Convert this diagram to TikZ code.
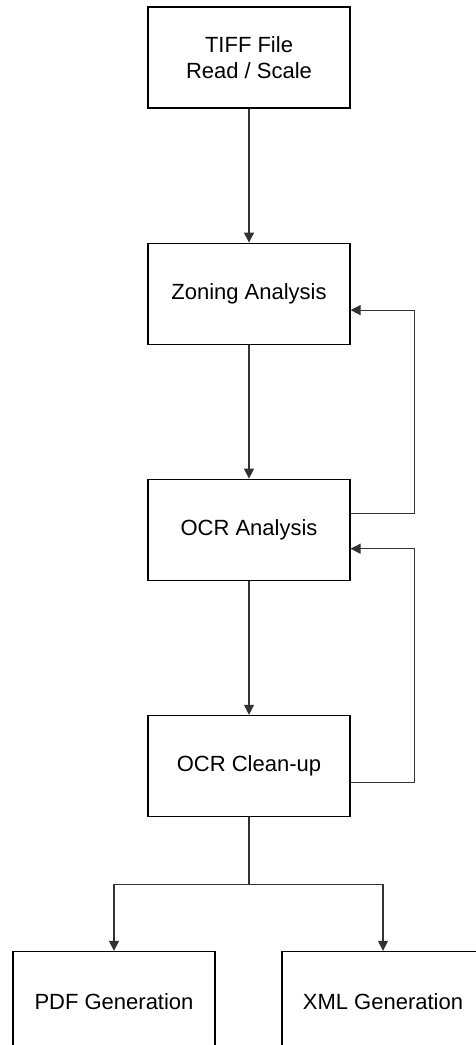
\documentclass[tikz,border=0pt]{standalone}
\usepackage{fontspec}
\setmainfont{Liberation Sans}
\usetikzlibrary{positioning, arrows.meta, calc}
\definecolor{lineg}{RGB}{50, 50, 50}

\begin{document}
\begin{tikzpicture}[
    x=1pt, y=-1pt,
    stage/.style={rectangle, draw=black, line width=1.1pt, minimum width=202pt,
                  minimum height=101pt, align=center, inner sep=0pt,
                  font=\fontsize{22}{26}\selectfont},
    arr/.style={-{Triangle[length=10pt, width=10pt]}, line width=1.1pt, color=lineg},
    link/.style={line width=1.1pt, color=lineg}
  ]
  \useasboundingbox (0,0) rectangle (475,1045);

  % Main chain
  \node[stage] (tiff) at (249,57.5) {TIFF File\\Read / Scale};
  \node[stage, below=134pt of tiff] (zone) {Zoning Analysis};
  \node[stage, below=134pt of zone] (ocr) {OCR Analysis};
  \node[stage, below=134pt of ocr] (clean) {OCR Clean-up};

  % Outputs
  \node[stage, below=134pt of clean, xshift=-135pt] (pdf) {PDF Generation};
  \node[stage, below=134pt of clean, xshift=134pt] (xml) {XML Generation};
  \coordinate (split) at ($(clean.south)+(0,68)$);

  % Arrows
  \draw[arr] (tiff) -- (zone);
  \draw[arr] (zone) -- (ocr);
  \draw[arr] (ocr) -- (clean);
  \draw[link] (clean) -- (split);
  \draw[arr] (split) -| (pdf);
  \draw[arr] (split) -| (xml);

  % Feedback loops
  \draw[arr] ([yshift=16pt]ocr.east) -- ++(64,0) |- ([yshift=-16.5pt]zone.east);
  \draw[arr] ([yshift=-16.5pt]clean.east) -- ++(64,0) |- ([yshift=-19pt]ocr.east);
\end{tikzpicture}
\end{document}
